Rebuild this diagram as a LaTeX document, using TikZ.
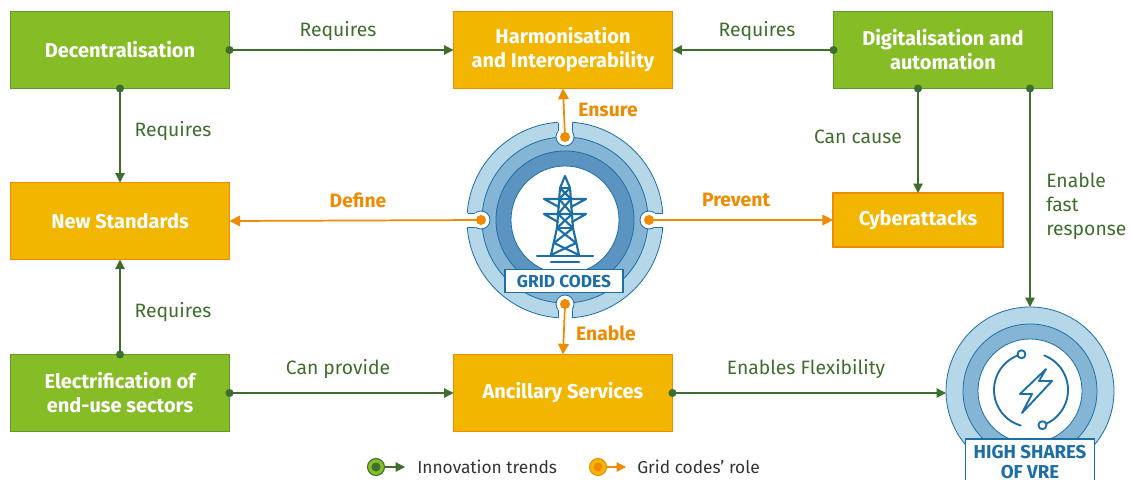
\documentclass[tikz,border=0pt]{standalone}
\usepackage{fontspec}
\setmainfont{Fira Sans}
\usetikzlibrary{arrows.meta}

\definecolor{trendgreen}{HTML}{86BC25}
\definecolor{trendedge}{HTML}{5C9A2C}
\definecolor{trendline}{HTML}{3E6E2E}
\definecolor{roleamber}{HTML}{F2B600}
\definecolor{roleorange}{HTML}{EE8B00}
\definecolor{ringlight}{HTML}{B5D7E8}
\definecolor{ringmid}{HTML}{85B5D5}
\definecolor{ringdark}{HTML}{5B94C0}
\definecolor{codeblue}{HTML}{1C6FA5}
\definecolor{keygray}{HTML}{333333}

\tikzset{
  trendbox/.style={draw=trendedge, fill=trendgreen, text=white, line width=0.8pt,
    font=\fontsize{15}{18}\selectfont\bfseries, align=center,
    minimum width=164.25pt, minimum height=57.75pt, inner sep=0pt, outer sep=0pt},
  rolebox/.style={trendbox, draw=roleorange, fill=roleamber},
  trendarrow/.style={draw=trendline, line width=0.9pt, shorten <=-3pt,
    {Circle[length=6pt]}-{Triangle[length=7pt,width=7pt]}},
  rolearrow/.style={draw=roleorange, line width=1.3pt, -{Triangle[length=8pt,width=8pt]}},
  trendlabel/.style={text=trendline, font=\fontsize{14.5}{18}\selectfont, inner sep=0.75pt},
  rolelabel/.style={text=roleorange, font=\fontsize{14.5}{18}\selectfont\bfseries, inner sep=0.75pt},
  knob/.style={fill=white, draw=codeblue, line width=0.6pt},
  ring/.style={draw=codeblue, line width=0.6pt},
  badge/.style={draw=codeblue, fill=white, text=codeblue, line width=0.8pt, inner sep=0pt,
    font=\fontsize{13}{15}\selectfont\bfseries, align=center}
}

\begin{document}
\begin{tikzpicture}[x=0.75pt,y=0.75pt,yscale=-1,xscale=1]
\useasboundingbox (0,0) rectangle (1131,479);
\clip (0,0) rectangle (1131,479);
\fill[white] (0,0) rectangle (1131,479);

%Shape: Rectangle
\draw (120,50) node [trendbox] (dec) {Decentralisation};
%Shape: Rectangle
\draw (563,50) node [rolebox] (harm) {Harmonisation\\and Interoperability};
%Shape: Rectangle
\draw (943,50) node [trendbox] (dig) {Digitalisation and\\automation};
%Shape: Rectangle
\draw (120,221) node [rolebox] (std) {New Standards};
%Shape: Rectangle
\draw (918,220) node [rolebox, minimum width=127.5pt, minimum height=40.5pt] (cyb) {Cyberattacks};
%Shape: Rectangle
\draw (120,393) node [trendbox] (elec) {Electrification of\\end-use sectors};
%Shape: Rectangle
\draw (563,393) node [rolebox] (anc) {Ancillary Services};

%Shape: Circle (grid codes)
\draw (565,220) node [circle, fill=ringlight, ring, minimum size=147pt, inner sep=0pt, outer sep=0pt] (gc) {};
\draw [ring, fill=ringmid] (gc.center) circle (83);
\draw [ring, fill=ringdark] (gc.center) circle (69);
\draw [ring, fill=white] (gc.center) circle (54);
\coordinate (nt) at (565,137);
\coordinate (nb) at (565,304);
\coordinate (nl) at (481,220);
\coordinate (nr) at (649,220);
\foreach \n in {nt,nb,nl,nr} {\draw [knob] (\n) circle (9);}
% notch channels
\fill [white] (558,116) rectangle (572,137);
\fill [white] (558,304) rectangle (572,325);
\fill [white] (460,213) rectangle (481,227);
\fill [white] (649,213) rectangle (670,227);
\draw [ring] (558,131.3) -- (558,122.5) (572,131.3) -- (572,122.5);
\draw [ring] (558,309.7) -- (558,317.5) (572,309.7) -- (572,317.5);
\draw [ring] (475.3,213) -- (467.5,213) (475.3,227) -- (467.5,227);
\draw [ring] (654.7,213) -- (662.5,213) (654.7,227) -- (662.5,227);

%Pylon
\begin{scope}[draw=codeblue, line width=1.6pt, line join=round, line cap=round]
\draw (560,188) -- (565,176) -- (570,188);
\draw (560,188) -- (557,228) -- (551,255);
\draw (570,188) -- (573,228) -- (579,255);
\draw (560,188) -- (570,188) (559,199) -- (571,199) (558,214) -- (572,214) (557,228) -- (573,228);
\draw (560,188) -- (571,199) -- (558,214) -- (573,228) -- (554,243) -- (579,255);
\draw (570,188) -- (559,199) -- (572,214) -- (557,228) -- (576,243) -- (551,255);
\draw (544,199) -- (586,199) (544,199) -- (559,207) (586,199) -- (571,207);
\draw (544,214) -- (586,214) (544,214) -- (558,222) (586,214) -- (572,222);
\draw (537,256) -- (593,256) (551,262) -- (579,262);
\end{scope}

% Text Node
\draw (564,281) node [badge, minimum width=88.5pt, minimum height=17.25pt] (gclabel) {GRID CODES};

%Shape: Circle (high shares)
\draw (1030,391) node [circle, fill=ringlight, ring, minimum size=126pt, inner sep=0pt, outer sep=0pt] (hs) {};
\draw [ring, fill=ringmid] (hs.center) circle (67);
\draw [ring, fill=white] (hs.center) circle (52);
\begin{scope}[draw=codeblue, line width=1.4pt, line cap=round, line join=round]
\draw (1031,390) ++(255:37) arc [start angle=255, end angle=106, radius=37];
\draw (1031,390) ++(-69:37) arc [start angle=-69, end angle=72, radius=37];
\draw [fill=white] (1031,390) ++(255:37) circle (4);
\draw [fill=white] (1031,390) ++(72:37) circle (4);
\draw (1046,369) -- (1020,394) -- (1032,394) -- (1022,413) -- (1052,381) -- (1039,381) -- cycle;
\end{scope}
% Text Node
\draw (1030,462) node [badge, minimum width=96.75pt, minimum height=34.5pt, font=\fontsize{14}{15}\selectfont\bfseries] (hslabel) {HIGH SHARES\\OF VRE};

%Straight Lines
\draw [trendarrow] (dec.east) -- (harm.west);
\draw [trendarrow] (dig.west) -- (harm.east);
\draw [trendarrow] (dec.south) -- (std.north);
\draw [trendarrow] (elec.north) -- (std.south);
\draw [trendarrow] (cyb.north |- dig.south) -- (cyb.north);
\draw [trendarrow] (hs.north |- dig.south) -- (hs.north);
\draw [trendarrow] (elec.east) -- (anc.west);
\draw [trendarrow] (anc.east) -- (anc.east -| hs.west);

%Straight Lines
\draw [rolearrow] (nt) -- (harm.south);
\draw [rolearrow] (nl) -- (std.east);
\draw [rolearrow] (nr) -- (cyb.west);
\draw [rolearrow] (nb) -- (anc.north);
\foreach \n in {nt,nb,nl,nr} {\fill [roleorange] (\n) circle (5);}

% Text Node
\draw (338,31) node [trendlabel] (lreqa) {Requires};
% Text Node
\draw (757,31) node [trendlabel] (lreqb) {Requires};
% Text Node
\draw (173,131) node [trendlabel] (lreqc) {Requires};
% Text Node
\draw (173,312) node [trendlabel] (lreqd) {Requires};
% Text Node
\draw (858,137) node [trendlabel] (lcause) {Can cause};
% Text Node
\draw (1045,206) node [trendlabel, anchor=west, align=left] (lfast) {Enable\\fast\\response};
% Text Node
\draw (338,369) node [trendlabel] (lprov) {Can provide};
% Text Node
\draw (806,369) node [trendlabel] (lflex) {Enables Flexibility};
% Text Node
\draw (608,110) node [rolelabel] (lens) {Ensure};
% Text Node
\draw (358,200) node [rolelabel] (ldef) {Define};
% Text Node
\draw (736,200) node [rolelabel] (lprev) {Prevent};
% Text Node
\draw (606,333) node [rolelabel] (lena) {Enable};

%Legend
\draw (376,467) node [circle, fill=trendgreen, draw=trendline, line width=0.8pt, minimum size=12.75pt, inner sep=0pt] (keytrend) {};
\fill [trendline] (keytrend.center) circle (4.5);
\coordinate (keytrendtip) at (405,467);
\draw [trendline, line width=0.9pt, -{Triangle[length=7pt,width=7pt]}] (keytrend.east) -- (keytrendtip);
\draw (416,467) node [anchor=west, text=keygray, font=\fontsize{13}{16}\selectfont, inner sep=0.75pt] (keytrendtext) {Innovation trends};

\draw (598,467) node [circle, fill=roleamber, draw=roleorange, line width=0.8pt, minimum size=12.75pt, inner sep=0pt] (keyrole) {};
\fill [roleorange] (keyrole.center) circle (4.5);
\coordinate (keyroletip) at (626,467);
\draw [roleorange, line width=0.9pt, -{Triangle[length=7pt,width=7pt]}] (keyrole.east) -- (keyroletip);
\draw (636,467) node [anchor=west, text=keygray, font=\fontsize{13}{16}\selectfont, inner sep=0.75pt] (keyroletext) {Grid codes’ role};

\end{tikzpicture}
\end{document}
